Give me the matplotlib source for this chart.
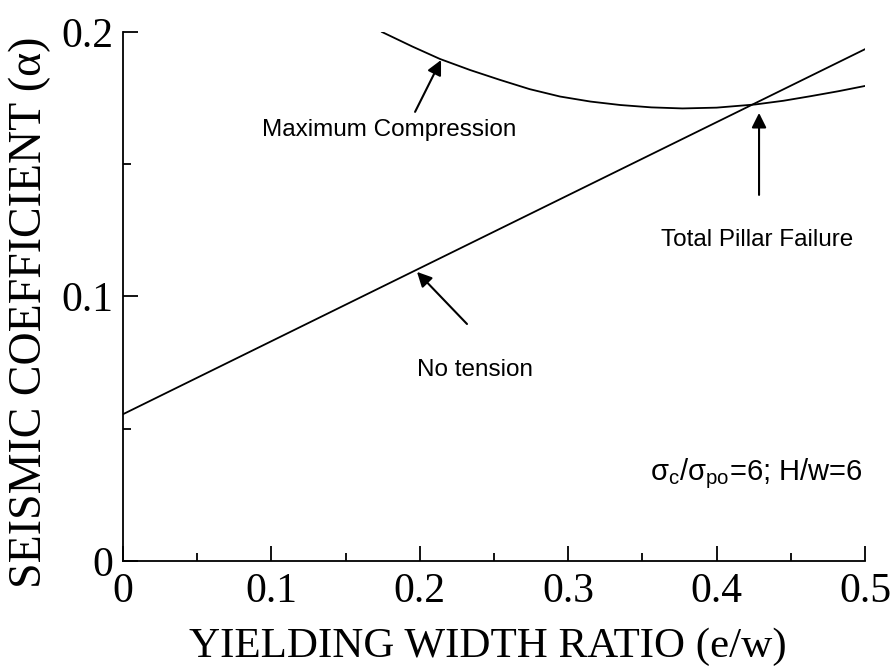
import numpy as np
import matplotlib
matplotlib.use('Agg')
import matplotlib.pyplot as plt

plt.rcParams['mathtext.fontset'] = 'custom'
plt.rcParams['mathtext.rm'] = 'Liberation Sans'
plt.rcParams['mathtext.it'] = 'Liberation Sans'

# No-tension line (straight)
tension_x = [0.0, 0.5]
tension_y = [0.0555, 0.1935]

# Maximum compression curve
comp_x = [0.1745, 0.1950, 0.2136, 0.2340, 0.2540, 0.2740, 0.2945, 0.3150, 0.3350,
          0.3560, 0.3770, 0.4000, 0.4260, 0.4450, 0.4630, 0.4820, 0.5000]
comp_y = [0.2000, 0.1945, 0.1898, 0.1856, 0.1819, 0.1784, 0.1756, 0.1737, 0.1724,
          0.1715, 0.1711, 0.1714, 0.1726, 0.1740, 0.1757, 0.1776, 0.1796]

# annotations: (text, text_xy, arrow_tail, arrow_head)
labels = ['Maximum Compression', 'No tension', 'Total Pillar Failure']
text_pos = [(0.1793, 0.1630), (0.2372, 0.0722), (0.4275, 0.1214)]
arrow_tail = [(0.1968, 0.1698), (0.2318, 0.0896), (0.4286, 0.1384)]
arrow_head = [(0.2143, 0.1894), (0.1981, 0.1093), (0.4286, 0.1694)]

fig = plt.figure(figsize=(8.96, 6.68), dpi=100)
ax = fig.add_axes([0.1373, 0.1602, 0.8281, 0.7919])

ax.plot(tension_x, tension_y, 'k-', lw=1.3)
ax.plot(comp_x, comp_y, 'k-', lw=1.3)

for lab, tp, tl, hd in zip(labels, text_pos, arrow_tail, arrow_head):
    ax.annotate('', xy=hd, xytext=tl,
                arrowprops=dict(arrowstyle='-|>', color='k', lw=1.5,
                                mutation_scale=22, shrinkA=0, shrinkB=0))
    ax.text(tp[0], tp[1], lab, ha='center', va='center',
            fontsize=17.5, family='Liberation Sans')

ax.text(0.4985, 0.033, 'σ$_{\\rm c}$/σ$_{\\rm po}$=6; H/w=6', ha='right', va='center',
        fontsize=21, family='Liberation Sans')

ax.set_xlim(0, 0.5)
ax.set_ylim(0, 0.2)
ax.spines['top'].set_visible(False)
ax.spines['right'].set_visible(False)
ax.spines['left'].set_linewidth(1.3)
ax.spines['bottom'].set_linewidth(1.3)

ax.set_xticks([0, 0.1, 0.2, 0.3, 0.4, 0.5])
ax.set_xticklabels(['0', '0.1', '0.2', '0.3', '0.4', '0.5'])
ax.set_xticks([0.05, 0.15, 0.25, 0.35, 0.45], minor=True)
ax.set_yticks([0, 0.1, 0.2])
ax.set_yticklabels(['0', '0.1', '0.2'])
ax.set_yticks([0.05, 0.15], minor=True)
ax.tick_params(which='major', direction='in', length=11, width=1.3,
               labelsize=30, pad=7)
ax.tick_params(which='minor', direction='in', length=6, width=1.3)
ax.tick_params(axis='x', which='major', pad=8)
for t in ax.get_xticklabels() + ax.get_yticklabels():
    t.set_family('Liberation Serif')

ax.set_xlabel('YIELDING WIDTH RATIO (e/w)', fontsize=31, family='Liberation Serif')
ax.set_ylabel('SEISMIC COEFFICIENT (α)', fontsize=33, family='Liberation Serif')
ax.xaxis.set_label_coords(0.492, -0.125)
ax.yaxis.set_label_coords(-0.097, 0.47)

fig.savefig('out.png', dpi=100)
